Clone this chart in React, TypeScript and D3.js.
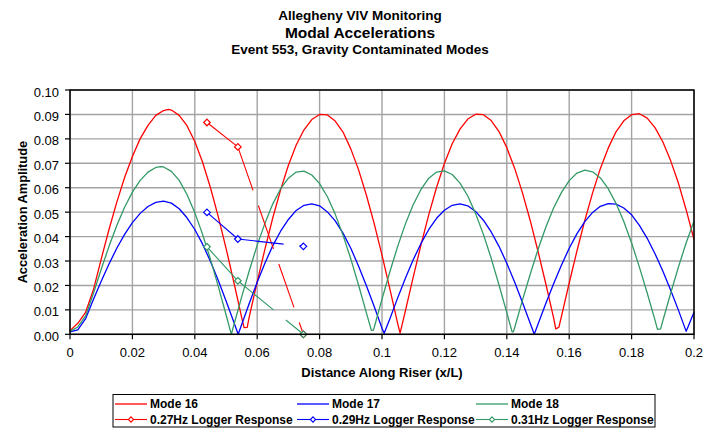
import React from "react";
import * as d3 from "d3";

type Pt = [number, number];

const W = 718;
const H = 430;

// Modal acceleration amplitude along the riser (x/L, amplitude)
const mode16: Pt[] = [
  [0, 0.0015], [0.0025, 0.0045], [0.005, 0.009], [0.0075, 0.0182], [0.01, 0.0308],
  [0.0125, 0.0429], [0.015, 0.0541], [0.0175, 0.0642], [0.02, 0.0728], [0.0225, 0.0801],
  [0.025, 0.0855], [0.0275, 0.0896], [0.03, 0.0916], [0.0315, 0.0921], [0.0325, 0.0918],
  [0.035, 0.0896], [0.0375, 0.0854], [0.04, 0.0789], [0.0425, 0.0704], [0.045, 0.0601],
  [0.0475, 0.0483], [0.05, 0.0353], [0.0525, 0.0214], [0.055, 0.007], [0.0558, 0.0027],
  [0.0568, 0.0028], [0.0575, 0.0074], [0.06, 0.0215], [0.0625, 0.035], [0.065, 0.0477],
  [0.0675, 0.0591], [0.07, 0.0692], [0.0725, 0.0775], [0.075, 0.0837], [0.0775, 0.0879],
  [0.08, 0.09], [0.0825, 0.0898], [0.085, 0.0873], [0.0875, 0.0828], [0.09, 0.0759],
  [0.0925, 0.0673], [0.095, 0.0569], [0.0975, 0.0453], [0.1, 0.0324], [0.1025, 0.0187],
  [0.105, 0.0046], [0.1058, 0.0005], [0.1075, 0.0096], [0.11, 0.0234], [0.1125, 0.0366],
  [0.115, 0.049], [0.1175, 0.0602], [0.12, 0.0699], [0.1225, 0.078], [0.125, 0.084],
  [0.1275, 0.0881], [0.13, 0.0901], [0.1325, 0.0899], [0.135, 0.0875], [0.1375, 0.083],
  [0.14, 0.0764], [0.1425, 0.068], [0.145, 0.058], [0.1475, 0.0466], [0.15, 0.034],
  [0.1525, 0.0207], [0.155, 0.0067], [0.1557, 0.0022], [0.1567, 0.0029], [0.1575, 0.0072],
  [0.16, 0.021], [0.1625, 0.0342], [0.165, 0.0466], [0.1675, 0.0579], [0.17, 0.0679],
  [0.1725, 0.0762], [0.175, 0.0829], [0.1775, 0.0874], [0.18, 0.0899], [0.1825, 0.0903],
  [0.185, 0.0885], [0.1875, 0.0846], [0.19, 0.0788], [0.1925, 0.0711], [0.195, 0.0619],
  [0.1975, 0.0509], [0.2, 0.0388],
];

const mode17: Pt[] = [
  [0, 0.001], [0.0025, 0.0018], [0.005, 0.0064], [0.0075, 0.0142], [0.01, 0.0217],
  [0.0125, 0.0288], [0.015, 0.0352], [0.0175, 0.0409], [0.02, 0.0457], [0.0225, 0.0495],
  [0.025, 0.0523], [0.0275, 0.054], [0.03, 0.0545], [0.0325, 0.0537], [0.035, 0.0514],
  [0.0375, 0.0477], [0.04, 0.0429], [0.0425, 0.0369], [0.045, 0.0299], [0.0475, 0.0221],
  [0.05, 0.0137], [0.0525, 0.005], [0.0539, 0.0], [0.055, 0.0039], [0.0575, 0.0128],
  [0.06, 0.0213], [0.0625, 0.0292], [0.065, 0.0363], [0.0675, 0.0422], [0.07, 0.047],
  [0.0725, 0.0507], [0.075, 0.0528], [0.0775, 0.0534], [0.08, 0.0526], [0.0825, 0.0501],
  [0.085, 0.0464], [0.0875, 0.0414], [0.09, 0.0352], [0.0925, 0.0279], [0.095, 0.0199],
  [0.0975, 0.0114], [0.1, 0.0025], [0.1007, 0.0004], [0.1025, 0.0063], [0.105, 0.0148],
  [0.1075, 0.0229], [0.11, 0.0305], [0.1125, 0.0372], [0.115, 0.0429], [0.1175, 0.0475],
  [0.12, 0.0508], [0.1225, 0.0528], [0.125, 0.0534], [0.1275, 0.0526], [0.13, 0.0503],
  [0.1325, 0.0467], [0.135, 0.0419], [0.1375, 0.036], [0.14, 0.0291], [0.1425, 0.0214],
  [0.145, 0.0131], [0.1475, 0.0045], [0.1488, 0.0], [0.15, 0.0041], [0.1525, 0.0126],
  [0.155, 0.0207], [0.1575, 0.0283], [0.16, 0.0352], [0.1625, 0.0412], [0.165, 0.0461],
  [0.1675, 0.0499], [0.17, 0.0524], [0.1725, 0.0535], [0.175, 0.0533], [0.1775, 0.0517],
  [0.18, 0.0489], [0.1825, 0.0446], [0.185, 0.0393], [0.1875, 0.033], [0.19, 0.0259],
  [0.1925, 0.0181], [0.195, 0.0099], [0.1975, 0.0012], [0.2, 0.009],
];

const mode18: Pt[] = [
  [0, 0.0012], [0.0025, 0.003], [0.005, 0.0075], [0.0075, 0.0167], [0.01, 0.0266],
  [0.0125, 0.036], [0.015, 0.0445], [0.0175, 0.052], [0.02, 0.0582], [0.0225, 0.063],
  [0.025, 0.0664], [0.0275, 0.0683], [0.0291, 0.0686], [0.03, 0.0685], [0.0325, 0.0667],
  [0.035, 0.063], [0.0375, 0.0572], [0.04, 0.0498], [0.0425, 0.0409], [0.045, 0.0308],
  [0.0475, 0.0197], [0.05, 0.0081], [0.0517, 0.0], [0.0525, 0.0037], [0.055, 0.0152],
  [0.0575, 0.0262], [0.06, 0.0365], [0.0625, 0.0455], [0.065, 0.0534], [0.0675, 0.0596],
  [0.07, 0.0639], [0.0725, 0.0664], [0.075, 0.0668], [0.0775, 0.0652], [0.08, 0.0617],
  [0.0825, 0.0563], [0.085, 0.0492], [0.0875, 0.0406], [0.09, 0.0309], [0.0925, 0.0201],
  [0.095, 0.0088], [0.0966, 0.0016], [0.0972, 0.0016], [0.0975, 0.0028], [0.1, 0.0144],
  [0.1025, 0.0255], [0.105, 0.0359], [0.1075, 0.0452], [0.11, 0.053], [0.1125, 0.0593],
  [0.115, 0.0639], [0.1175, 0.0664], [0.12, 0.0669], [0.1225, 0.0654], [0.125, 0.0619],
  [0.1275, 0.0566], [0.13, 0.0494], [0.1325, 0.0409], [0.135, 0.0311], [0.1375, 0.0202],
  [0.14, 0.0089], [0.1417, 0.001], [0.1421, 0.001], [0.1425, 0.0027], [0.145, 0.0139],
  [0.1475, 0.0246], [0.15, 0.0347], [0.1525, 0.0438], [0.155, 0.0517], [0.1575, 0.058],
  [0.16, 0.0629], [0.1625, 0.066], [0.165, 0.0672], [0.1675, 0.0665], [0.17, 0.064],
  [0.1725, 0.0596], [0.175, 0.0536], [0.1775, 0.0462], [0.18, 0.0374], [0.1825, 0.0275],
  [0.185, 0.0169], [0.1875, 0.0058], [0.1883, 0.002], [0.1893, 0.0022], [0.19, 0.0055],
  [0.1925, 0.0167], [0.195, 0.0275], [0.1975, 0.0375], [0.2, 0.0463],
];

// Logger responses at the three logger stations
const logger027: Pt[] = [[0.0439, 0.0867], [0.0538, 0.0767], [0.0748, 0.0]];
const logger029: Pt[] = [[0.0439, 0.0499], [0.0538, 0.039], [0.0748, 0.036]];
const logger031: Pt[] = [[0.0439, 0.0358], [0.0538, 0.0219], [0.0748, 0.0]];

const xTicks = [0, 0.02, 0.04, 0.06, 0.08, 0.1, 0.12, 0.14, 0.16, 0.18, 0.2];
const xTickLabels = ["0", "0.02", "0.04", "0.06", "0.08", "0.1", "0.12", "0.14", "0.16", "0.18", "0.2"];
const yTicks = [0, 0.01, 0.02, 0.03, 0.04, 0.05, 0.06, 0.07, 0.08, 0.09, 0.1];
const yTickLabels = ["0.00", "0.01", "0.02", "0.03", "0.04", "0.05", "0.06", "0.07", "0.08", "0.09", "0.10"];

const modeNames = ["Mode 16", "Mode 17", "Mode 18"];
const loggerNames = ["0.27Hz Logger Response", "0.29Hz Logger Response", "0.31Hz Logger Response"];
const colors = ["#ff0000", "#0000ff", "#339966"];

const FONT = "'Liberation Sans', Arial, Helvetica, sans-serif";

const plot = { left: 70, right: 694, top: 90, bottom: 334.3 };

function diamond(cx: number, cy: number, r: number) {
  return `M${cx},${cy - r}L${cx + r},${cy}L${cx},${cy + r}L${cx - r},${cy}Z`;
}

export default function App() {
  const x = d3.scaleLinear().domain([0, 0.2]).range([plot.left, plot.right]);
  const y = d3.scaleLinear().domain([0, 0.1]).range([plot.bottom, plot.top]);
  const line = d3
    .line<Pt>()
    .x((d) => x(d[0]))
    .y((d) => y(d[1]));

  const modes = [mode16, mode17, mode18];
  const loggers = [logger027, logger029, logger031];

  const legendCols = [115, 297, 476];
  const legendRows = [404, 419.5];

  return (
    <div style={{ position: "absolute", left: 0, top: 0, width: W, height: H, background: "#fff" }}>
      <svg width={W} height={H} style={{ display: "block" }} fontFamily={FONT}>
        <rect x={0} y={0} width={W} height={H} fill="#fff" />

        {/* titles */}
        <g fontWeight="bold" textAnchor="middle" fill="#000">
          <text x={360} y={20} fontSize={13.5}>Allegheny VIV Monitoring</text>
          <text x={360} y={37.5} fontSize={15.5}>Modal Accelerations</text>
          <text x={360} y={54} fontSize={13.5}>Event 553, Gravity Contaminated Modes</text>
        </g>

        {/* gridlines */}
        <g stroke="#a3a3a3" strokeWidth={1.4}>
          {yTicks.map((t) => (
            <line key={"gy" + t} x1={plot.left} x2={plot.right} y1={y(t)} y2={y(t)} />
          ))}
          {xTicks.map((t) => (
            <line key={"gx" + t} x1={x(t)} x2={x(t)} y1={plot.top} y2={plot.bottom} />
          ))}
        </g>

        {/* mode shapes */}
        <g fill="none" strokeWidth={1.3} strokeLinejoin="round">
          {modes.map((m, i) => (
            <path key={"m" + i} d={line(m) ?? ""} stroke={colors[i]} />
          ))}
        </g>

        {/* logger responses */}
        {loggers.map((l, i) => (
          <g key={"l" + i} fill="none" stroke={colors[i]} strokeWidth={1.1}>
            <path d={line(l.slice(0, 2)) ?? ""} />
            <path d={line(l.slice(1, 3)) ?? ""} strokeDasharray="46 16" />
            {l.map((p, j) => (
              <path key={j} d={diamond(x(p[0]), y(p[1]), 3.3)} fill="#fff" strokeWidth={1.2} />
            ))}
          </g>
        ))}

        {/* plot frame */}
        <rect
          x={plot.left}
          y={plot.top}
          width={plot.right - plot.left}
          height={plot.bottom - plot.top}
          fill="none"
          stroke="#000"
          strokeWidth={1.5}
        />

        {/* y axis */}
        <g>
          {yTicks.map((t, i) => (
            <g key={"yt" + t}>
              <line x1={plot.left - 5} x2={plot.left} y1={y(t)} y2={y(t)} stroke="#000" strokeWidth={1.2} />
              <text x={59} y={y(t) + 6.6} textAnchor="end" fontSize={13} fill="#000">
                {yTickLabels[i]}
              </text>
            </g>
          ))}
        </g>
        <text
          transform={`translate(27,${(plot.top + plot.bottom) / 2}) rotate(-90)`}
          textAnchor="middle"
          fontSize={12.8}
          fontWeight="bold"
          fill="#000"
        >
          Acceleration Amplitude
        </text>

        {/* x axis */}
        <g>
          {xTicks.map((t, i) => (
            <g key={"xt" + t}>
              <line x1={x(t)} x2={x(t)} y1={plot.bottom} y2={plot.bottom + 5} stroke="#000" strokeWidth={1.2} />
              <text x={x(t)} y={357} textAnchor="middle" fontSize={13} fill="#000">
                {xTickLabels[i]}
              </text>
            </g>
          ))}
        </g>
        <text x={(plot.left + plot.right) / 2} y={376.5} textAnchor="middle" fontSize={13} fontWeight="bold" fill="#000">
          Distance Along Riser (x/L)
        </text>

        {/* legend */}
        <rect x={113} y={394.5} width={542} height={32.5} fill="#fff" stroke="#000" strokeWidth={1} />
        <g fontSize={12} fontWeight="bold" fill="#000">
          {modeNames.map((n, i) => (
            <g key={"lm" + i}>
              <line x1={legendCols[i]} x2={legendCols[i] + 32} y1={legendRows[0]} y2={legendRows[0]} stroke={colors[i]} strokeWidth={1.3} />
              <text x={legendCols[i] + 35} y={legendRows[0] + 4.3}>{n}</text>
            </g>
          ))}
          {loggerNames.map((n, i) => (
            <g key={"ll" + i}>
              <line x1={legendCols[i]} x2={legendCols[i] + 32} y1={legendRows[1]} y2={legendRows[1]} stroke={colors[i]} strokeWidth={1.1} />
              <path d={diamond(legendCols[i] + 16, legendRows[1], 2.6)} fill="#fff" stroke={colors[i]} strokeWidth={1.1} />
              <text x={legendCols[i] + 35} y={legendRows[1] + 4.3}>{n}</text>
            </g>
          ))}
        </g>
      </svg>
    </div>
  );
}
